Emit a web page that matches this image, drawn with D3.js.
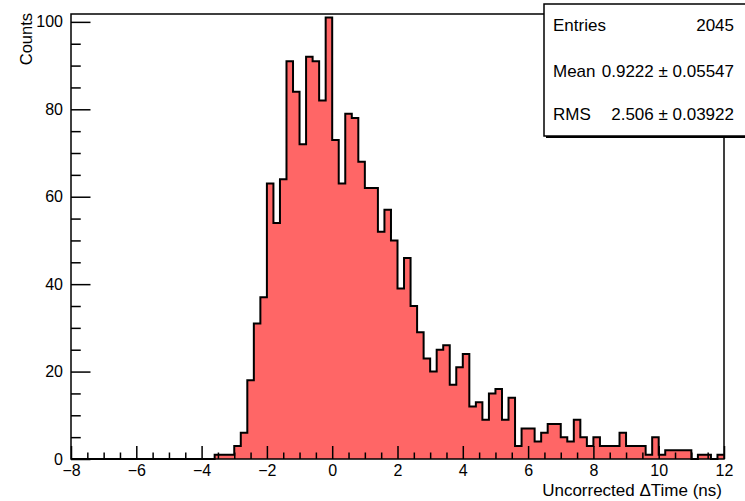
<!DOCTYPE html>
<html>
<head>
<meta charset="utf-8">
<script src="https://cdn.jsdelivr.net/npm/d3@7"></script>
<style>
  html, body { margin: 0; padding: 0; background: #fff; }
  svg { display: block; font-family: "Liberation Sans", Arial, Helvetica, sans-serif; }
</style>
</head>
<body>
<svg id="chart" width="745" height="501"></svg>
<script>
// ---- data ----
const xLow = -8, xHigh = 12, nBins = 100;
const counts = [
  0,0,0,0,0,0,0,0,0,0, 0,0,0,0,0,0,0,0,0,0, 0,0,
  1,1,1,3,6,18,31,37,
  63,54,64,91,84,72,92,91,82,101,
  73,63,79,78,68,62,62,52,57,50,
  39,46,35,29,23,20,25,26,17,21,
  24,12,13,9,15,16,9,14,3,7,
  7,4,6,8,8,5,4,9,5,3,
  5,3,3,3,6,3,3,3,1,5,
  1,2,2,2,2,0,1,1,0,1
];
const xMajorTicks = [-8,-6,-4,-2,0,2,4,6,8,10,12];
const yMajorTicks = [0,20,40,60,80,100];
const yMax = 101.8;
const statsLabels = ["Entries", "Mean", "RMS"];
const statsValues = ["2045", "0.9222 \u00b1 0.05547", "2.506 \u00b1 0.03922"];
const xTitle = ["Uncorrected ", "\u0394", "Time (ns)"];
const yTitle = "Counts";

// ---- layout ----
const L = 71, R = 724, T = 14, B = 459;
const svg = d3.select("#chart");
svg.append("rect").attr("width", 745).attr("height", 501).attr("fill", "#fff");

const x = d3.scaleLinear().domain([xLow, xHigh]).range([L, R]);
const y = d3.scaleLinear().domain([0, yMax]).range([B, T]);
const bw = (xHigh - xLow) / nBins;

const bins = counts.map((c, i) => ({ x0: xLow + i * bw, x1: xLow + (i + 1) * bw, c }));
const pts = bins.map(b => [b.x0, b.c]).concat([[xHigh, counts[counts.length - 1]]]);

// fill
svg.append("path")
  .datum(pts)
  .attr("fill", "#ff6666")
  .attr("d", d3.area().curve(d3.curveStepAfter).x(d => x(d[0])).y0(y(0)).y1(d => y(d[1])));

// outline
svg.append("path")
  .datum(pts)
  .attr("fill", "none")
  .attr("stroke", "#000")
  .attr("stroke-width", 2)
  .attr("stroke-linejoin", "miter")
  .attr("d", d3.line().curve(d3.curveStepAfter).x(d => x(d[0])).y(d => y(d[1])));

// axes
const fontSize = 16;
const xMinor = d3.range(xLow, xHigh + 0.001, 0.5).filter(v => Math.abs(v / 2 - Math.round(v / 2)) > 1e-6);
const yMinor = d3.range(0, yMax, 5).filter(v => v % 20 !== 0);

const gx = svg.append("g").attr("transform", `translate(0,${B})`)
  .call(d3.axisBottom(x).tickValues(xMajorTicks).tickSize(-13).tickPadding(6).tickFormat(d3.format("d")));
gx.select(".domain").remove();
gx.selectAll("text").attr("font-size", fontSize).attr("fill", "#000").attr("font-family", "Liberation Sans, Arial, sans-serif");
gx.selectAll("line").attr("stroke", "#000").attr("stroke-width", 1.5);

const gxm = svg.append("g").attr("transform", `translate(0,${B})`)
  .call(d3.axisBottom(x).tickValues(xMinor).tickSize(-6.5).tickFormat(""));
gxm.select(".domain").remove();
gxm.selectAll("line").attr("stroke", "#000").attr("stroke-width", 1.5);

const gy = svg.append("g").attr("transform", `translate(${L},0)`)
  .call(d3.axisLeft(y).tickValues(yMajorTicks).tickSize(-19.5).tickPadding(8).tickFormat(d3.format("d")));
gy.select(".domain").remove();
gy.selectAll("text").attr("font-size", fontSize).attr("fill", "#000").attr("font-family", "Liberation Sans, Arial, sans-serif");
gy.selectAll("line").attr("stroke", "#000").attr("stroke-width", 1.5);

const gym = svg.append("g").attr("transform", `translate(${L},0)`)
  .call(d3.axisLeft(y).tickValues(yMinor).tickSize(-9.75).tickFormat(""));
gym.select(".domain").remove();
gym.selectAll("line").attr("stroke", "#000").attr("stroke-width", 1.5);

// frame
svg.append("rect")
  .attr("x", L).attr("y", T).attr("width", R - L).attr("height", B - T)
  .attr("fill", "none").attr("stroke", "#000").attr("stroke-width", 1.5);

// axis titles
const xt = svg.append("text")
  .attr("x", R - 2).attr("y", 496)
  .attr("text-anchor", "end")
  .attr("font-size", 17)
  .attr("fill", "#000");
xTitle.forEach(s => xt.append("tspan").text(s));

svg.append("text")
  .attr("transform", `translate(32,${T - 1}) rotate(-90)`)
  .attr("text-anchor", "end")
  .attr("font-size", 16.5)
  .attr("fill", "#000")
  .text(yTitle);

// stats box
const sbx = 544, sby = 4, sbh = 132;
svg.append("rect").attr("x", sbx + 2).attr("y", sby + 2).attr("width", 745 - sbx).attr("height", sbh).attr("fill", "#000");
svg.append("rect").attr("x", sbx).attr("y", sby).attr("width", 745 - sbx + 5).attr("height", sbh)
  .attr("fill", "#fff").attr("stroke", "#000").attr("stroke-width", 1.5);

const rowY = [31, 77, 120];
statsLabels.forEach((lab, i) => {
  svg.append("text").attr("x", 553).attr("y", rowY[i])
    .attr("font-size", 17).attr("fill", "#000").text(lab);
  svg.append("text").attr("x", 734).attr("y", rowY[i])
    .attr("text-anchor", "end")
    .attr("font-size", 17).attr("fill", "#000").text(statsValues[i]);
});
</script>
</body>
</html>
